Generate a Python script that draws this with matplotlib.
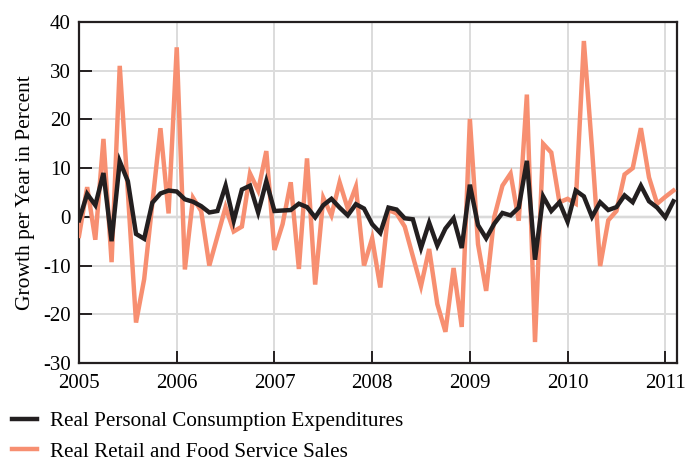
import numpy as np
import matplotlib
matplotlib.use("Agg")
import matplotlib.pyplot as plt

plt.rcParams['font.family'] = ['Liberation Serif', 'DejaVu Serif']
plt.rcParams['axes.unicode_minus'] = False

# monthly, Jan 2005 .. Feb 2011
start_year = 2005
pce = [-0.7, 4.7, 2.4, 9.0, -5.0, 11.4, 7.3, -3.5, -4.5, 2.9, 4.8, 5.4,
       5.2, 3.6, 3.1, 2.2, 0.9, 1.2, 6.4, -0.8, 5.6, 6.4, 0.9, 7.3,
       1.2, 1.3, 1.4, 2.7, 2.0, -0.1, 2.4, 3.7, 1.9, 0.3, 2.6, 1.7,
       -1.5, -3.3, 1.9, 1.5, -0.3, -0.5, -6.4, -1.2, -5.9, -2.4, -0.3, -6.4,
       6.6, -1.7, -4.4, -1.4, 0.8, 0.3, 1.9, 11.5, -8.8, 4.2, 1.2, 3.0,
       -1.0, 5.4, 4.2, 0.0, 3.0, 1.4, 2.0, 4.4, 3.0, 6.4, 3.2, 1.9,
       -0.1, 3.2]
retail = [-3.9, 6.1, -4.7, 16.0, -9.3, 31.0, 5.0, -21.7, -12.8, 2.7, 18.2, 0.7,
          34.8, -10.8, 3.9, 1.2, -10.0, -4.0, 2.0, -3.0, -2.0, 8.9, 5.4, 13.5,
          -6.8, -1.5, 7.1, -10.7, 12.0, -13.9, 3.9, 0.3, 7.1, 1.7, 6.2, -10.0,
          -4.4, -14.5, 1.4, 0.7, -2.0, -8.1, -14.2, -6.6, -17.9, -23.6, -10.5, -22.6,
          20.1, -5.6, -15.2, 0.0, 6.4, 8.9, -0.8, 25.1, -25.7, 15.0, 13.2, 3.0,
          3.7, 2.7, 36.1, 14.0, -10.1, -0.7, 1.2, 8.7, 10.0, 18.2, 8.1, 2.7,
          4.1, 5.4]
x_ticks = [2005, 2006, 2007, 2008, 2009, 2010, 2011]
y_ticks = [-30, -20, -10, 0, 10, 20, 30, 40]

months = start_year + np.arange(len(pce)) / 12.0

fig = plt.figure(figsize=(6.86, 4.61), dpi=100)
ax = fig.add_axes([0.1152, 0.2126, 0.8717, 0.7397])

ax.plot(months, retail, color='#f78f71', lw=3.2, solid_joinstyle='miter',
        label='Real Retail and Food Service Sales', zorder=3)
ax.plot(months, pce, color='#231f20', lw=3.2, solid_joinstyle='miter',
        label='Real Personal Consumption Expenditures', zorder=4)

ax.set_xlim(2005, 2011.12)
ax.set_ylim(-30, 40)
ax.set_xticks(x_ticks)
ax.set_yticks(y_ticks)
ax.grid(True, color='#dcdcdc', lw=1.4, zorder=0)
ax.axhline(0, color='#9a9a9a', lw=1.6, zorder=1)

ax.tick_params(axis='both', direction='in', length=9, width=1.4, color='#231f20',
               labelsize=15, top=False, right=False)
ax.tick_params(axis='y', pad=6)
ax.tick_params(axis='x', pad=8)
for s in ax.spines.values():
    s.set_linewidth(1.6)
    s.set_color('#231f20')

ax.set_ylabel('Growth per Year in Percent', fontsize=15.5, labelpad=6)

h, l = ax.get_legend_handles_labels()
ax.legend(h[::-1], l[::-1], loc='upper left', bbox_to_anchor=(-0.126, -0.118),
          frameon=False, fontsize=15.2, handlelength=1.2, handletextpad=0.6,
          labelspacing=0.5, borderaxespad=0)

fig.savefig('out.png', dpi=100)
